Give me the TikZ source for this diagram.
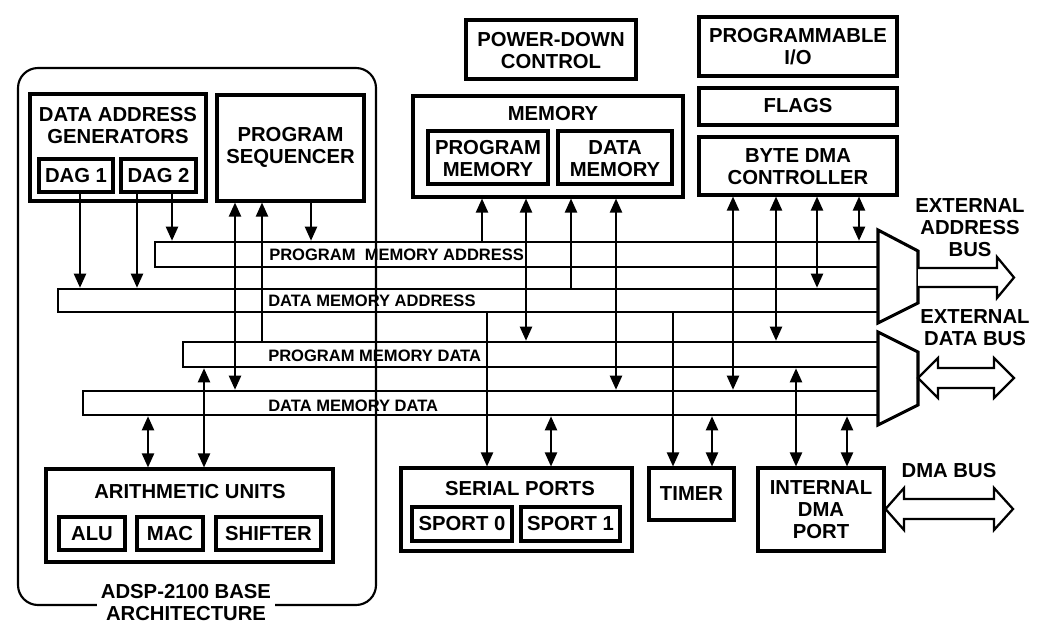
\documentclass[tikz,border=0pt]{standalone}
\usepackage{fontspec}
\setmainfont{Liberation Sans}
\usetikzlibrary{arrows.meta,fit}
\tikzset{
  box/.style={draw, line width=2.3pt, inner sep=0pt},
  busbar/.style={draw, line width=1.9pt, inner sep=0pt},
  outerbox/.style={draw, line width=1.6pt, inner sep=0pt, rounded corners=15pt},
  lbl/.style={font=\fontsize{15.2}{16.5}\selectfont\bfseries, align=center, inner sep=0pt},
  buslbl/.style={font=\fontsize{12.4}{14}\selectfont\bfseries, anchor=west, inner sep=0pt},
  conn/.style={line width=1.6pt, -{Triangle[length=10.5pt,width=9pt]}},
  bconn/.style={line width=1.6pt, {Triangle[length=10.5pt,width=9pt]}-{Triangle[length=10.5pt,width=9pt]}},
  muxshape/.style={draw, line width=2.3pt, line join=miter},
  hollow/.style={draw, fill=white, line width=1.7pt, line join=miter},
}
\begin{document}
\begin{tikzpicture}[x=0.75pt,y=-0.75pt]
\useasboundingbox (0,0) rectangle (1041,635);

% base architecture container
\node[outerbox, fit={(18,68) (376,605)}] (base) {};

% boxes
\node[box, fit={(30,94) (206,201)}] (dag) {};
\node[box, fit={(39,159) (113,192)}] (dag1) {};
\node[box, fit={(121,159) (196,192)}] (dag2) {};
\node[box, fit={(217,95) (364,201)}] (ps) {};
\node[box, fit={(466,20) (636,79)}] (pwr) {};
\node[box, fit={(413,96) (683,197)}] (mem) {};
\node[box, fit={(428,131) (548,184)}] (pmem) {};
\node[box, fit={(558,131) (672,184)}] (dmem) {};
\node[box, fit={(699,17) (897,76)}] (pio) {};
\node[box, fit={(699,88) (897,125)}] (flags) {};
\node[box, fit={(699,137) (897,195)}] (bdma) {};
\node[box, fit={(46,469) (333,562)}] (au) {};
\node[box, fit={(59,517) (125,550)}] (alu) {};
\node[box, fit={(137,517) (203,550)}] (mac) {};
\node[box, fit={(216,517) (321,550)}] (shf) {};
\node[box, fit={(401,468) (632,551)}] (sp) {};
\node[box, fit={(412,507) (512,541)}] (sp0) {};
\node[box, fit={(521,507) (620,541)}] (sp1) {};
\node[box, fit={(649,468) (734,520)}] (timer) {};
\node[box, fit={(758,468) (884,551)}] (idma) {};

% buses
\node[busbar, fit={(155,242) (878,267)}] (pma) {};
\node[busbar, fit={(58,289) (878,312)}] (dma) {};
\node[busbar, fit={(183,342) (878,367)}] (pmd) {};
\node[busbar, fit={(83,391) (878,415)}] (dmd) {};

% multiplexers
\draw[muxshape] (878,230) -- (918,251) -- (918,303) -- (878,323) -- cycle;
\draw[muxshape] (878,332) -- (918,352) -- (918,405) -- (878,425) -- cycle;
\coordinate (amux) at (918,277.5);
\coordinate (dmux) at (918,378);

% external buses
\draw[hollow] (amux |- 0,268) -- (997,268) -- (997,257) -- (1014,277.5) -- (997,298) -- (997,287) -- (amux |- 0,287);
\draw[hollow] (938,368) -- (994,368) -- (994,358) -- (1014,378) -- (994,398) -- (994,388) -- (938,388) -- (938,398) -- (dmux) -- (938,358) -- cycle;
\draw[hollow] (904,499) -- (994,499) -- (994,488) -- (1013,509) -- (994,530) -- (994,519) -- (904,519) -- (904,530) -- (idma.east |- 0,509) -- (904,488) -- cycle;

% x positions of connectors
\foreach \xx in {80,137,148,172,204,235,262,311,482,487,526,551,571,616,673,712,733,776,796,817,847,859}
  \coordinate (x\xx) at (\xx,0);

% connectors
\draw[conn] (dag1.south -| x80) -- (dma.north -| x80);
\draw[conn] (dag2.south -| x137) -- (dma.north -| x137);
\draw[conn] (dag2.south -| x172) -- (pma.north -| x172);
\draw[bconn] (ps.south -| x235) -- (dmd.north -| x235);
\draw[conn] (pmd.north -| x262) -- (ps.south -| x262);
\draw[conn] (ps.south -| x311) -- (pma.north -| x311);
\draw[conn] (pma.north -| x482) -- (mem.south -| x482);
\draw[bconn] (mem.south -| x526) -- (pmd.north -| x526);
\draw[conn] (dma.north -| x571) -- (mem.south -| x571);
\draw[bconn] (mem.south -| x616) -- (dmd.north -| x616);
\draw[bconn] (bdma.south -| x733) -- (dmd.north -| x733);
\draw[bconn] (bdma.south -| x776) -- (pmd.north -| x776);
\draw[bconn] (bdma.south -| x817) -- (dma.north -| x817);
\draw[bconn] (bdma.south -| x859) -- (pma.north -| x859);
\draw[bconn] (dmd.south -| x148) -- (au.north -| x148);
\draw[bconn] (pmd.south -| x204) -- (au.north -| x204);
\draw[conn] (dma.south -| x487) -- (sp.north -| x487);
\draw[bconn] (dmd.south -| x551) -- (sp.north -| x551);
\draw[conn] (dma.south -| x673) -- (timer.north -| x673);
\draw[bconn] (dmd.south -| x712) -- (timer.north -| x712);
\draw[bconn] (pmd.south -| x796) -- (idma.north -| x796);
\draw[bconn] (dmd.south -| x847) -- (idma.north -| x847);

% texts
\node[lbl] (tdag) at (118,126) {DATA ADDRESS\\GENERATORS};
\node[lbl] (tdag1) at (76,176) {DAG 1};
\node[lbl] (tdag2) at (158.5,176) {DAG 2};
\node[lbl] (tps) at (290.5,147) {PROGRAM\\SEQUENCER};
\node[lbl] (tpwr) at (551,51) {POWER-DOWN\\CONTROL};
\node[lbl] (tmem) at (553,114) {MEMORY};
\node[lbl] (tpmem) at (488,158.5) {PROGRAM\\MEMORY};
\node[lbl] (tdmem) at (615,158.5) {DATA\\MEMORY};
\node[lbl] (tpio) at (798,47) {PROGRAMMABLE\\I/O};
\node[lbl] (tflags) at (798,106) {FLAGS};
\node[lbl] (tbdma) at (798,167) {BYTE DMA\\CONTROLLER};
\node[lbl] (tau) at (190,492) {ARITHMETIC UNITS};
\node[lbl] (talu) at (92,534) {ALU};
\node[lbl] (tmac) at (170,534) {MAC};
\node[lbl] (tshf) at (268.5,534) {SHIFTER};
\node[lbl] (tsp) at (520,489) {SERIAL PORTS};
\node[lbl] (tsp0) at (462,524) {SPORT 0};
\node[lbl] (tsp1) at (570.5,524) {SPORT 1};
\node[lbl] (ttimer) at (691.5,494) {TIMER};
\node[lbl] (tidma) at (821,510) {INTERNAL\\DMA\\PORT};
\node[lbl] (tea) at (970,228) {EXTERNAL\\ADDRESS\\BUS};
\node[lbl] (ted) at (975,328) {EXTERNAL\\DATA BUS};
\node[lbl] (tdb) at (949,471) {DMA BUS};
\node[lbl, fill=white, inner xsep=3pt, inner ysep=1pt] (tbase) at (186,603) {ADSP-2100 BASE\\ARCHITECTURE};

\node[buslbl] (lpma) at (269,255) {PROGRAM\ \ MEMORY ADDRESS};
\node[buslbl] (ldma) at (268,301) {DATA MEMORY ADDRESS};
\node[buslbl] (lpmd) at (268,356) {PROGRAM MEMORY DATA};
\node[buslbl] (ldmd) at (268,406) {DATA MEMORY DATA};
\end{tikzpicture}
\end{document}
